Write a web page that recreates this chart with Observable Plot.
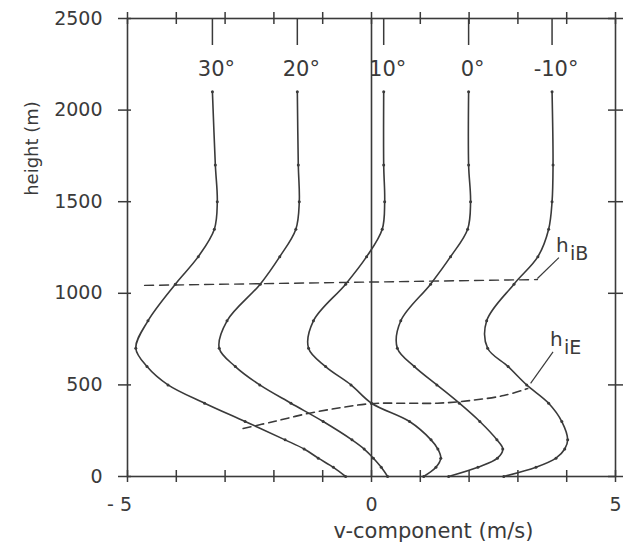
<!DOCTYPE html>
<html><head><meta charset="utf-8">
<script src="https://cdn.jsdelivr.net/npm/d3@7"></script>
<script src="https://cdn.jsdelivr.net/npm/@observablehq/plot@0.6"></script>
<style>body{margin:0;background:#fff} svg{display:block}</style>
</head><body><div id="chart"></div>
<script>
// ---- data ----
const heights = [0, 50, 100, 150, 200, 300, 400, 500, 600, 700, 850, 1050, 1200, 1350, 1500, 1700, 2100];
const latitudes = ["30°", "20°", "10°", "0°", "-10°"];
const v30  = [-0.53, -0.78, -1.09, -1.38, -1.77, -2.59, -3.42, -4.17, -4.60, -4.83, -4.58, -4.02, -3.55, -3.22, -3.16, -3.20, -3.26];
const v20  = [0.33, 0.20, 0.04, -0.15, -0.40, -0.99, -1.65, -2.29, -2.79, -3.12, -2.96, -2.28, -1.88, -1.55, -1.48, -1.50, -1.52];
const v10  = [1.07, 1.32, 1.42, 1.36, 1.22, 0.78, 0.00, -0.42, -0.94, -1.29, -1.19, -0.53, -0.10, 0.22, 0.27, 0.25, 0.25];
const v0   = [1.58, 2.18, 2.58, 2.69, 2.57, 2.22, 1.80, 1.34, 0.88, 0.53, 0.60, 1.21, 1.62, 1.97, 2.03, 1.99, 1.99];
const vm10 = [2.71, 3.37, 3.78, 3.96, 4.02, 3.90, 3.63, 3.18, 2.80, 2.38, 2.36, 2.92, 3.41, 3.63, 3.70, 3.72, 3.70];
const series = [v30, v20, v10, v0, vm10];

// boundary-layer heights
const hiBx = [-4.65, 3.40];
const hiBh = [1043, 1075];
const hiEx = [-2.63, -2.0, -1.3, -0.6, 0, 0.7, 1.35, 2.03, 2.71, 3.2];
const hiEh = [262, 300, 344, 377, 398, 400, 400, 415, 442, 480];
// label leaders (from line end to label)
const leaderX1 = [3.40, 3.26];
const leaderH1 = [1081, 508];
const leaderX2 = [3.84, 3.72];
const leaderH2 = [1195, 680];
const leaderNames = ["iB", "iE"];

const xTicks = [-5, -4, -3, -2, -1, 0, 1, 2, 3, 4, 5];
const xLabelsNeg = [-5];
const xLabelsPos = [0, 5];
const yTicks = [0, 500, 1000, 1500, 2000, 2500];

// ---- derived tables ----
const rows = latitudes.flatMap((lat, i) => heights.map((h, j) => ({lat, h, v: series[i][j]})));
const tops = latitudes.map((lat, i) => ({lat, v: series[i][series[i].length - 1]}));
const hiB = hiBx.map((x, i) => ({x, h: hiBh[i]}));
const hiE = hiEx.map((x, i) => ({x, h: hiEh[i]}));
const leaders = leaderNames.map((n, i) => ({n, x1: leaderX1[i], y1: leaderH1[i], x2: leaderX2[i], y2: leaderH2[i]}));

// ---- layout ----
const W = 633, H = 544;
const mL = 127, mR = 18, mT = 18, mB = 68;
const pw = W - mL - mR, ph = H - mT - mB;
const ink = "#3a3a3a";
const font = "DejaVu Sans";

const chart = Plot.plot({
  width: W, height: H,
  marginLeft: mL, marginRight: mR, marginTop: mT, marginBottom: mB,
  x: {domain: [-5, 5], label: null},
  y: {domain: [0, 2500], label: null},
  style: {fontFamily: font, fontSize: "19px", color: ink, background: "white"},
  marks: [
    Plot.frame({stroke: ink, strokeWidth: 1.6}),
    Plot.ruleX([0], {stroke: ink, strokeWidth: 1.6}),
    // crossing ticks on all four sides
    Plot.tickX(xTicks, {x: d => d, stroke: ink, strokeWidth: 1.5, insetTop: ph - 6, insetBottom: -6}),
    Plot.tickX(xTicks, {x: d => d, stroke: ink, strokeWidth: 1.5, insetTop: -6, insetBottom: ph - 6}),
    Plot.tickY(yTicks, {y: d => d, stroke: ink, strokeWidth: 1.5, insetLeft: -9, insetRight: pw - 4}),
    Plot.tickY(yTicks, {y: d => d, stroke: ink, strokeWidth: 1.5, insetLeft: pw - 7, insetRight: -8}),
    Plot.axisX({ticks: xLabelsNeg, tickSize: 0, tickPadding: 21, fontSize: 19, label: null, dx: -8,
      tickFormat: d => "- " + Math.abs(d)}),
    Plot.axisX({ticks: xLabelsPos, tickSize: 0, tickPadding: 21, fontSize: 19, label: null,
      tickFormat: d => String(d)}),
    Plot.axisY({ticks: yTicks, tickSize: 0, tickPadding: 25, fontSize: 19, label: null,
      tickFormat: d => String(d)}),
    // boundary-layer height lines
    Plot.line(hiB, {x: "x", y: "h", stroke: ink, strokeWidth: 1.4, strokeDasharray: "9,6"}),
    Plot.line(hiE, {x: "x", y: "h", curve: "catmull-rom", stroke: ink, strokeWidth: 1.6, strokeDasharray: "8,5"}),
    Plot.link(leaders, {x1: "x1", y1: "y1", x2: "x2", y2: "y2", stroke: ink, strokeWidth: 1.2}),
    Plot.text(leaders, {x: "x2", y: "y2", text: () => "h", textAnchor: "start", lineAnchor: "bottom",
      dx: -3, dy: -6, fontSize: 20, fill: ink}),
    Plot.text(leaders, {x: "x2", y: "y2", text: "n", textAnchor: "start", lineAnchor: "bottom",
      dx: 11, dy: 2, fontSize: 19, fill: ink}),
    // profiles
    Plot.line(rows, {x: "v", y: "h", z: "lat", curve: "catmull-rom", stroke: ink, strokeWidth: 1.6}),
    Plot.dot(rows, {x: "v", y: "h", r: 1.5, fill: ink}),
    // latitude leaders and labels
    Plot.tickX(tops, {x: "v", stroke: ink, strokeWidth: 1.5, insetBottom: ph - 27}),
    Plot.text(tops, {x: "v", text: "lat", frameAnchor: "top", lineAnchor: "middle", dy: 51, dx: 4,
      fontSize: 21, fill: ink}),
    // axis titles
    Plot.text(["v-component (m/s)"], {frameAnchor: "bottom", lineAnchor: "middle", textAnchor: "middle",
      text: d => d, dx: 62, dy: 55, fontSize: 21, fill: ink}),
    Plot.text(["height (m)"], {frameAnchor: "top-left", lineAnchor: "middle", textAnchor: "middle",
      text: d => d, rotate: -90, dx: -95, dy: 130, fontSize: 18, fill: ink})
  ]
});
document.getElementById("chart").appendChild(chart);
</script>
</body></html>
